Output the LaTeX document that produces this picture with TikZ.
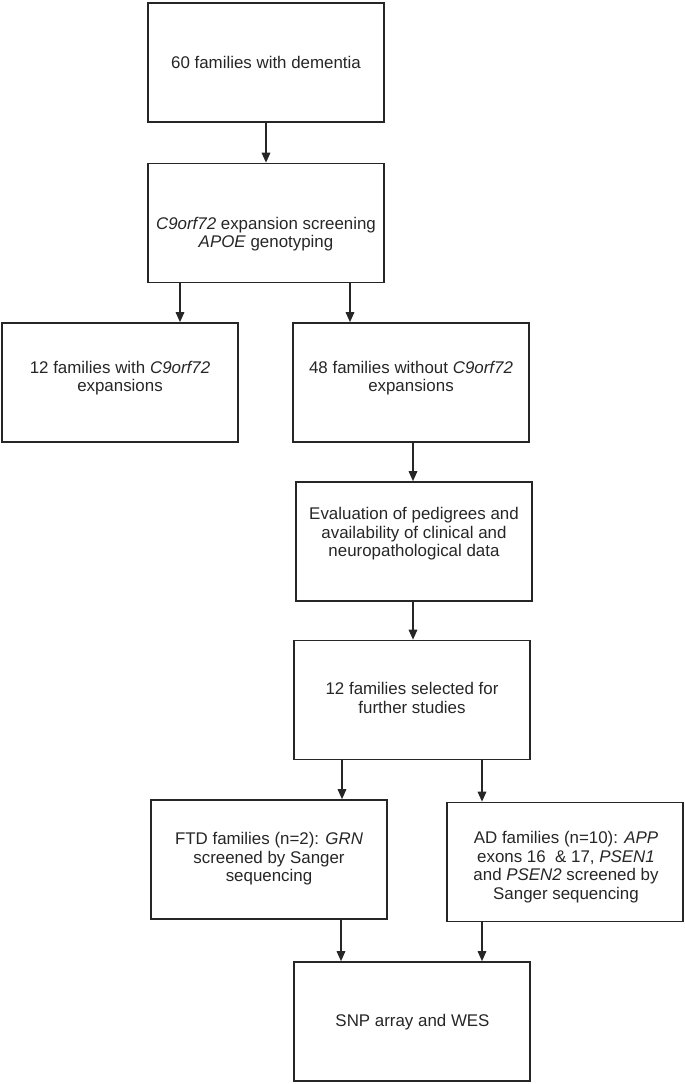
\documentclass[tikz,border=0pt]{standalone}
\usepackage{fontspec}
\setmainfont{Liberation Sans}
\usetikzlibrary{arrows.meta}
\begin{document}
\begin{tikzpicture}[x=1pt,y=-1pt,
  box/.style={draw=black!85,line width=1.6pt,rectangle,minimum width=236pt,minimum height=119pt,inner sep=0pt},
  txt/.style={align=center,inner sep=0pt,font=\fontsize{16.9}{18.6}\selectfont,text=black!85},
  arr/.style={draw=black!85,line width=1.6pt,-{Triangle[length=10pt,width=8.5pt]}}]
\useasboundingbox (0,0) rectangle (685,1084);
\node[box] (b1) at (266,62.5) {};
\node[box] (b2) at (266,223) {};
\node[box] (b3) at (120,382.5) {};
\node[box] (b4) at (411,382.5) {};
\node[box] (b5) at (414,541.5) {};
\node[box] (b6) at (412,700) {};
\node[box] (b7) at (269,859.5) {};
\node[box] (b8) at (565,862) {};
\node[box] (b9) at (412,1021.5) {};
\node[txt] (t1) at (266,62) {60 families with dementia};
\node[txt] (t2) at (266,234) {\textit{C9orf72} expansion screening\\\textit{APOE} genotyping};
\node[txt] (t3) at (120,378) {12 families with \textit{C9orf72}\\expansions};
\node[txt] (t4) at (411,378) {48 families without \textit{C9orf72}\\expansions};
\node[txt] (t5) at (414,534) {Evaluation of pedigrees and\\availability of clinical and\\neuropathological data};
\node[txt] (t6) at (412,698) {12 families selected for\\further studies};
\node[txt] (t7) at (269,859) {FTD families (n=2): \textit{GRN}\\screened by Sanger\\sequencing};
\node[txt] (t8) at (566,867) {AD families (n=10): \textit{APP}\\exons 16\ \ \& 17, \textit{PSEN1}\\and \textit{PSEN2} screened by\\Sanger sequencing};
\node[txt] (t9) at (412.5,1022) {SNP array and WES};
\draw[arr] (b1.south) -- (b2.north);
\draw[arr] ([xshift=-86pt]b2.south) -- ([xshift=-86pt]b2.south |- b3.north);
\draw[arr] ([xshift=84pt]b2.south) -- ([xshift=84pt]b2.south |- b4.north);
\draw[arr] ([xshift=2pt]b4.south) -- ([xshift=2pt]b4.south |- b5.north);
\draw[arr] ([xshift=-1pt]b5.south) -- ([xshift=-1pt]b5.south |- b6.north);
\draw[arr] ([xshift=-70pt]b6.south) -- ([xshift=-70pt]b6.south |- b7.north);
\draw[arr] ([xshift=70pt]b6.south) -- ([xshift=70pt]b6.south |- b8.north);
\draw[arr] ([xshift=72pt]b7.south) -- ([xshift=72pt]b7.south |- b9.north);
\draw[arr] ([xshift=-83pt]b8.south) -- ([xshift=-83pt]b8.south |- b9.north);
\end{tikzpicture}
\end{document}
